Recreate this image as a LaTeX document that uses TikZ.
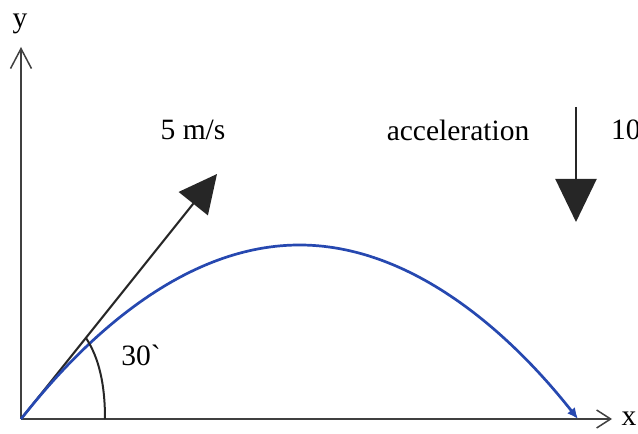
\documentclass[tikz,border=0pt]{standalone}
\usepackage{fontspec}
\setmainfont{Liberation Serif}
\newfontfamily\plainserif{Liberation Serif}
\usetikzlibrary{positioning, arrows.meta, calc}
\definecolor{pathblue}{RGB}{38,72,176}

\begin{document}
\begin{tikzpicture}[x=1pt, y=1pt, font=\fontsize{29.5}{32}\selectfont,
    axis/.style={line width=1.5pt, black!75},
    vel/.style={line width=2.1pt, black!85, -{Triangle[length=38pt, width=37pt]}},
    traj/.style={line width=2.7pt, pathblue, -{Latex[length=11pt, width=10pt]}}]
  \useasboundingbox (0,0) rectangle (638,434);
  % axes
  \coordinate (O) at (21,15);
  \coordinate (ytop) at (21,387);
  \coordinate (xend) at (612,15);
  \draw[axis, -{Straight Barb[length=20pt, width=21pt]}] (O) -- (ytop);
  \draw[axis, -{Straight Barb[length=14pt, width=18pt]}] (O) -- (xend);
  \node (ylab) at (20,410) {y};
  \node (xlab) at (629,15) {x};
  % launch velocity
  \coordinate (vtip) at (217,260);
  \draw[vel] (O) -- (vtip);
  \node (speed) at (193,304) {5 m/s};
  % trajectory
  \coordinate (peak) at (299.5,189);
  \coordinate (land) at (578,15);
  \draw[traj] (O) parabola bend (peak) (land);
  % angle
  \coordinate (a0) at (105,15);
  \coordinate (a1) at (86,96);
  \draw[line width=2pt, black!85] (a0) .. controls (105,50) and (99,76) .. (a1);
  \node[font=\plainserif\fontsize{29.5}{32}\selectfont] (angle) at (141,79) {30`};
  % acceleration
  \node (acc) at (458,304) {acceleration};
  \coordinate (gtop) at (576,327);
  \coordinate (gtip) at (576,212);
  \draw[vel, -{Triangle[length=43pt, width=41pt]}] (gtop) -- (gtip);
  \node[anchor=west, inner sep=0pt] (gval) at (611,304) {10};
\end{tikzpicture}
\end{document}
